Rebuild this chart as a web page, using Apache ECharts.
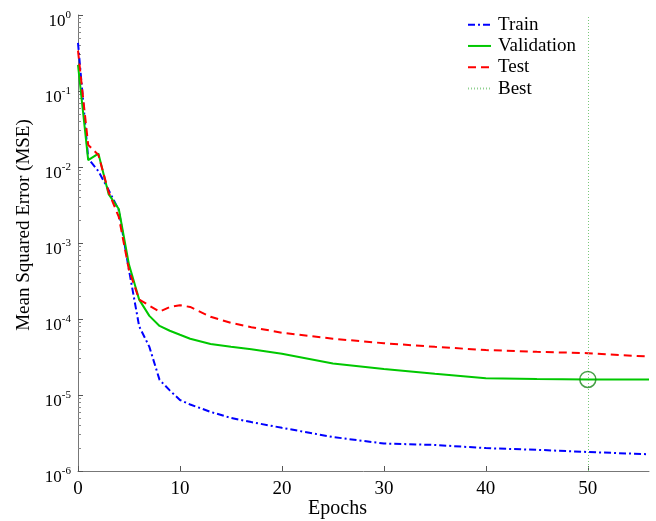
<!DOCTYPE html>
<html>
<head>
<meta charset="utf-8">
<script src="https://cdn.jsdelivr.net/npm/echarts@6/dist/echarts.min.js"></script>
<style>html,body{margin:0;padding:0;background:#fff}#c{width:656px;height:521px}</style>
</head>
<body>
<div id="c"></div>
<script>
var epochs     = [0, 1, 2, 3, 4, 5, 6, 7, 8, 9, 10, 11, 13, 15, 17, 20, 25, 30, 35, 40, 45, 50, 56];
var train      = [0.43, 0.013, 0.0088, 0.005, 0.0027, 0.00044, 0.000080, 0.000043, 0.0000158, 0.0000115, 0.0000086, 0.0000075, 0.0000060, 0.0000050, 0.0000044, 0.0000037, 0.0000028, 0.0000023, 0.0000022, 0.0000020, 0.0000019, 0.00000178, 0.00000166];
var validation = [0.22, 0.0123, 0.015, 0.0044, 0.0028, 0.00052, 0.00018, 0.00011, 0.000081, 0.000070, 0.000062, 0.000055, 0.000047, 0.000043, 0.000040, 0.000035, 0.000026, 0.000022, 0.000019, 0.0000166, 0.0000162, 0.000016, 0.000016];
var test       = [0.34, 0.0195, 0.0144, 0.0047, 0.0022, 0.00044, 0.00018, 0.00015, 0.000125, 0.000144, 0.000152, 0.000144, 0.000107, 0.000089, 0.000078, 0.000066, 0.000055, 0.000048, 0.000043, 0.000039, 0.000037, 0.0000355, 0.000032];
var bestEpoch = 50;
var bestValue = 0.000016;
var xTicks = [0, 10, 20, 30, 40, 50];
var yTicks = [1e-6, 1e-5, 1e-4, 1e-3, 1e-2, 1e-1, 1];
var legendNames = ['Train', 'Validation', 'Test', 'Best'];

function pairs(xs, ys) { return xs.map(function (x, i) { return [x, ys[i]]; }); }
// minor tick positions (2..9 within each decade)
var yMinor = [];
for (var d = 0; d < yTicks.length - 1; d++) {
  for (var m = 2; m <= 9; m++) yMinor.push(+(yTicks[d] * m).toPrecision(3));
}

var font = 'Liberation Serif';
var chart = echarts.init(document.getElementById('c'));
chart.setOption({
  animation: false,
  backgroundColor: '#fff',
  grid: { left: 78, top: 15, width: 571, height: 456, containLabel: false, outerBoundsMode: 'none' },
  legend: {
    data: legendNames,
    orient: 'vertical',
    left: 467, top: 14, padding: 0,
    itemWidth: 23, itemHeight: 10, itemGap: 0,
    textStyle: { fontFamily: font, fontSize: 19, color: '#000', padding: [0, 0, 0, 2], lineHeight: 21.3 },
    itemStyle: { opacity: 0 }
  },
  xAxis: {
    type: 'value', min: 0, max: 56, interval: 10,
    name: 'Epochs', nameLocation: 'middle', nameGap: 28, nameMoveOverlap: false,
    nameTextStyle: { fontFamily: font, fontSize: 20, color: '#000', padding: [0, 52, 0, 0] },
    axisLine: { lineStyle: { color: '#777', width: 1 } },
    axisTick: { inside: true, length: 5, lineStyle: { color: '#555' }, customValues: xTicks },
    axisLabel: { fontFamily: font, fontSize: 19, color: '#000', margin: 9, customValues: xTicks },
    splitLine: { show: false }
  },
  yAxis: [{
    type: 'log', logBase: 10, min: 1e-6, max: 1,
    name: 'Mean Squared Error (MSE)', nameLocation: 'middle', nameGap: 44, nameRotate: 90, nameMoveOverlap: false,
    nameTextStyle: { fontFamily: font, fontSize: 19, color: '#000', padding: [0, 0, 0, 36] },
    axisLine: { show: true, lineStyle: { color: '#777', width: 1 } },
    axisTick: { inside: true, length: 5, lineStyle: { color: '#555' }, customValues: yTicks },
    axisLabel: {
      margin: 7,
      customValues: yTicks,
      formatter: function (v) {
        var e = Math.round(Math.log10(v));
        return '{b|10}{e|' + e + '}';
      },
      rich: {
        b: { fontFamily: font, fontSize: 17, color: '#000', verticalAlign: 'bottom', lineHeight: 30 },
        e: { fontFamily: font, fontSize: 11, color: '#000', verticalAlign: 'middle', lineHeight: 30 }
      }
    },
    splitLine: { show: false }
  }, {
    type: 'log', logBase: 10, min: 1e-6, max: 1, position: 'left', offset: 0,
    axisLine: { show: false },
    axisTick: { show: true, inside: true, length: 3, lineStyle: { color: '#888' }, customValues: yMinor },
    axisLabel: { show: false },
    splitLine: { show: false }
  }],
  series: [
    { name: 'Train', type: 'line', data: pairs(epochs, train), showSymbol: false, symbol: 'none',
      itemStyle: { color: '#0000ff' },
      lineStyle: { color: '#0000ff', width: 2, type: [7, 3, 2, 3] } },
    { name: 'Validation', type: 'line', data: pairs(epochs, validation), showSymbol: false, symbol: 'none',
      itemStyle: { color: '#00c800' },
      lineStyle: { color: '#00c800', width: 2 } },
    { name: 'Test', type: 'line', data: pairs(epochs, test), showSymbol: false, symbol: 'none',
      itemStyle: { color: '#ff0000' },
      lineStyle: { color: '#ff0000', width: 2, type: [8, 5] } },
    { name: 'Best', type: 'line', data: [], symbol: 'none',
      itemStyle: { color: '#8fd08f' },
      lineStyle: { color: '#8fd08f', width: 1, type: [1, 2] },
      markLine: {
        silent: true, symbol: 'none', label: { show: false },
        lineStyle: { color: '#7ac87a', width: 1, type: [1, 2] },
        data: [{ yAxis: bestValue }, { xAxis: bestEpoch }]
      } },
    { name: 'BestPoint', type: 'scatter', data: [[bestEpoch, bestValue]], symbol: 'circle', symbolSize: 16,
      itemStyle: { color: 'rgba(0,0,0,0)', borderColor: '#1a8a1a', borderWidth: 1.5 }, z: 5 }
  ]
});
</script>
</body>
</html>
